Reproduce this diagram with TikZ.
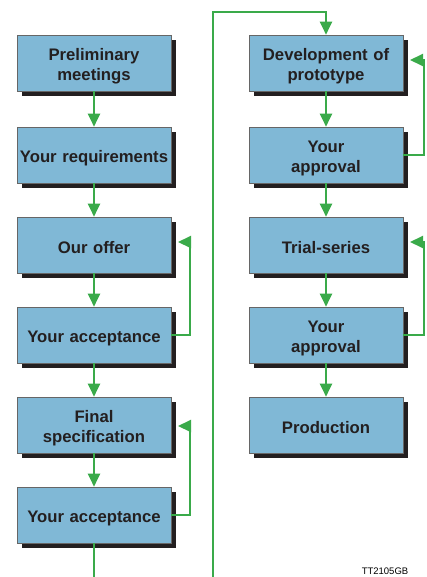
\documentclass[tikz,border=0pt]{standalone}
\usepackage{fontspec}
\setmainfont{Liberation Sans}
\usetikzlibrary{arrows.meta,shadows}
\definecolor{boxblue}{RGB}{128,184,214}
\definecolor{flowgreen}{RGB}{58,170,74}
\definecolor{shadowc}{RGB}{35,31,32}
\tikzset{
  stepbox/.style={draw=gray!80!black, line width=0.6pt, fill=boxblue,
    minimum width=154pt, minimum height=56pt, inner sep=0pt,
    text width=152pt, align=center, text height=18pt,
    font=\fontsize{16.7}{20}\selectfont\bfseries, text=shadowc,
    general shadow={shadow xshift=5pt, shadow yshift=-5pt, fill=shadowc}},
  flow/.style={draw=flowgreen, line width=2pt,
    -{Triangle[width=12pt,length=13pt]}},
  plainflow/.style={draw=flowgreen, line width=2pt},
}
\begin{document}
\begin{tikzpicture}[x=1pt,y=-1pt]
\useasboundingbox (0,0) rectangle (426,577);
% left column
\node[stepbox] (l1) at (94,63) {Preliminary\\meetings};
\node[stepbox] (l2) at (94,155) {Your requirements};
\node[stepbox] (l3) at (94,245) {Our offer};
\node[stepbox] (l4) at (94,335) {Your acceptance};
\node[stepbox] (l5) at (94,425) {Final\\specification};
\node[stepbox] (l6) at (94,515) {Your acceptance};
% right column
\node[stepbox] (r1) at (326,63) {Development of\\prototype};
\node[stepbox] (r2) at (326,155) {Your\\approval};
\node[stepbox] (r3) at (326,245) {Trial-series};
\node[stepbox] (r4) at (326,335) {Your\\approval};
\node[stepbox] (r5) at (326,425) {Production};
% vertical flows
\draw[flow] (l1) -- (l2);
\draw[flow] (l2) -- (l3);
\draw[flow] (l3) -- (l4);
\draw[flow] (l4) -- (l5);
\draw[flow] (l5) -- (l6);
\draw[flow] (r1) -- (r2);
\draw[flow] (r2) -- (r3);
\draw[flow] (r3) -- (r4);
\draw[flow] (r4) -- (r5);
% feedback loops
\coordinate (f1) at (178,242);
\draw[flow] (l4.east) -| (190,242) -- (f1);
\coordinate (f2) at (178,426);
\draw[flow] (l6.east) -| (190,426) -- (f2);
\coordinate (f3) at (410,60);
\draw[flow] (r2.east) -| (424,60) -- (f3);
\coordinate (f4) at (410,242);
\draw[flow] (r4.east) -| (424,242) -- (f4);
% long connector
\coordinate (b1) at (94,577);
\draw[plainflow] (l6.south) -- (b1);
\coordinate (b2) at (213,577);
\draw[flow] (b2) -- (213,12) -| (r1.north);
% label
\node[font=\fontsize{9.5}{11}\selectfont, text=black] (tag) at (385,571) {TT2105GB};
\end{tikzpicture}
\end{document}
